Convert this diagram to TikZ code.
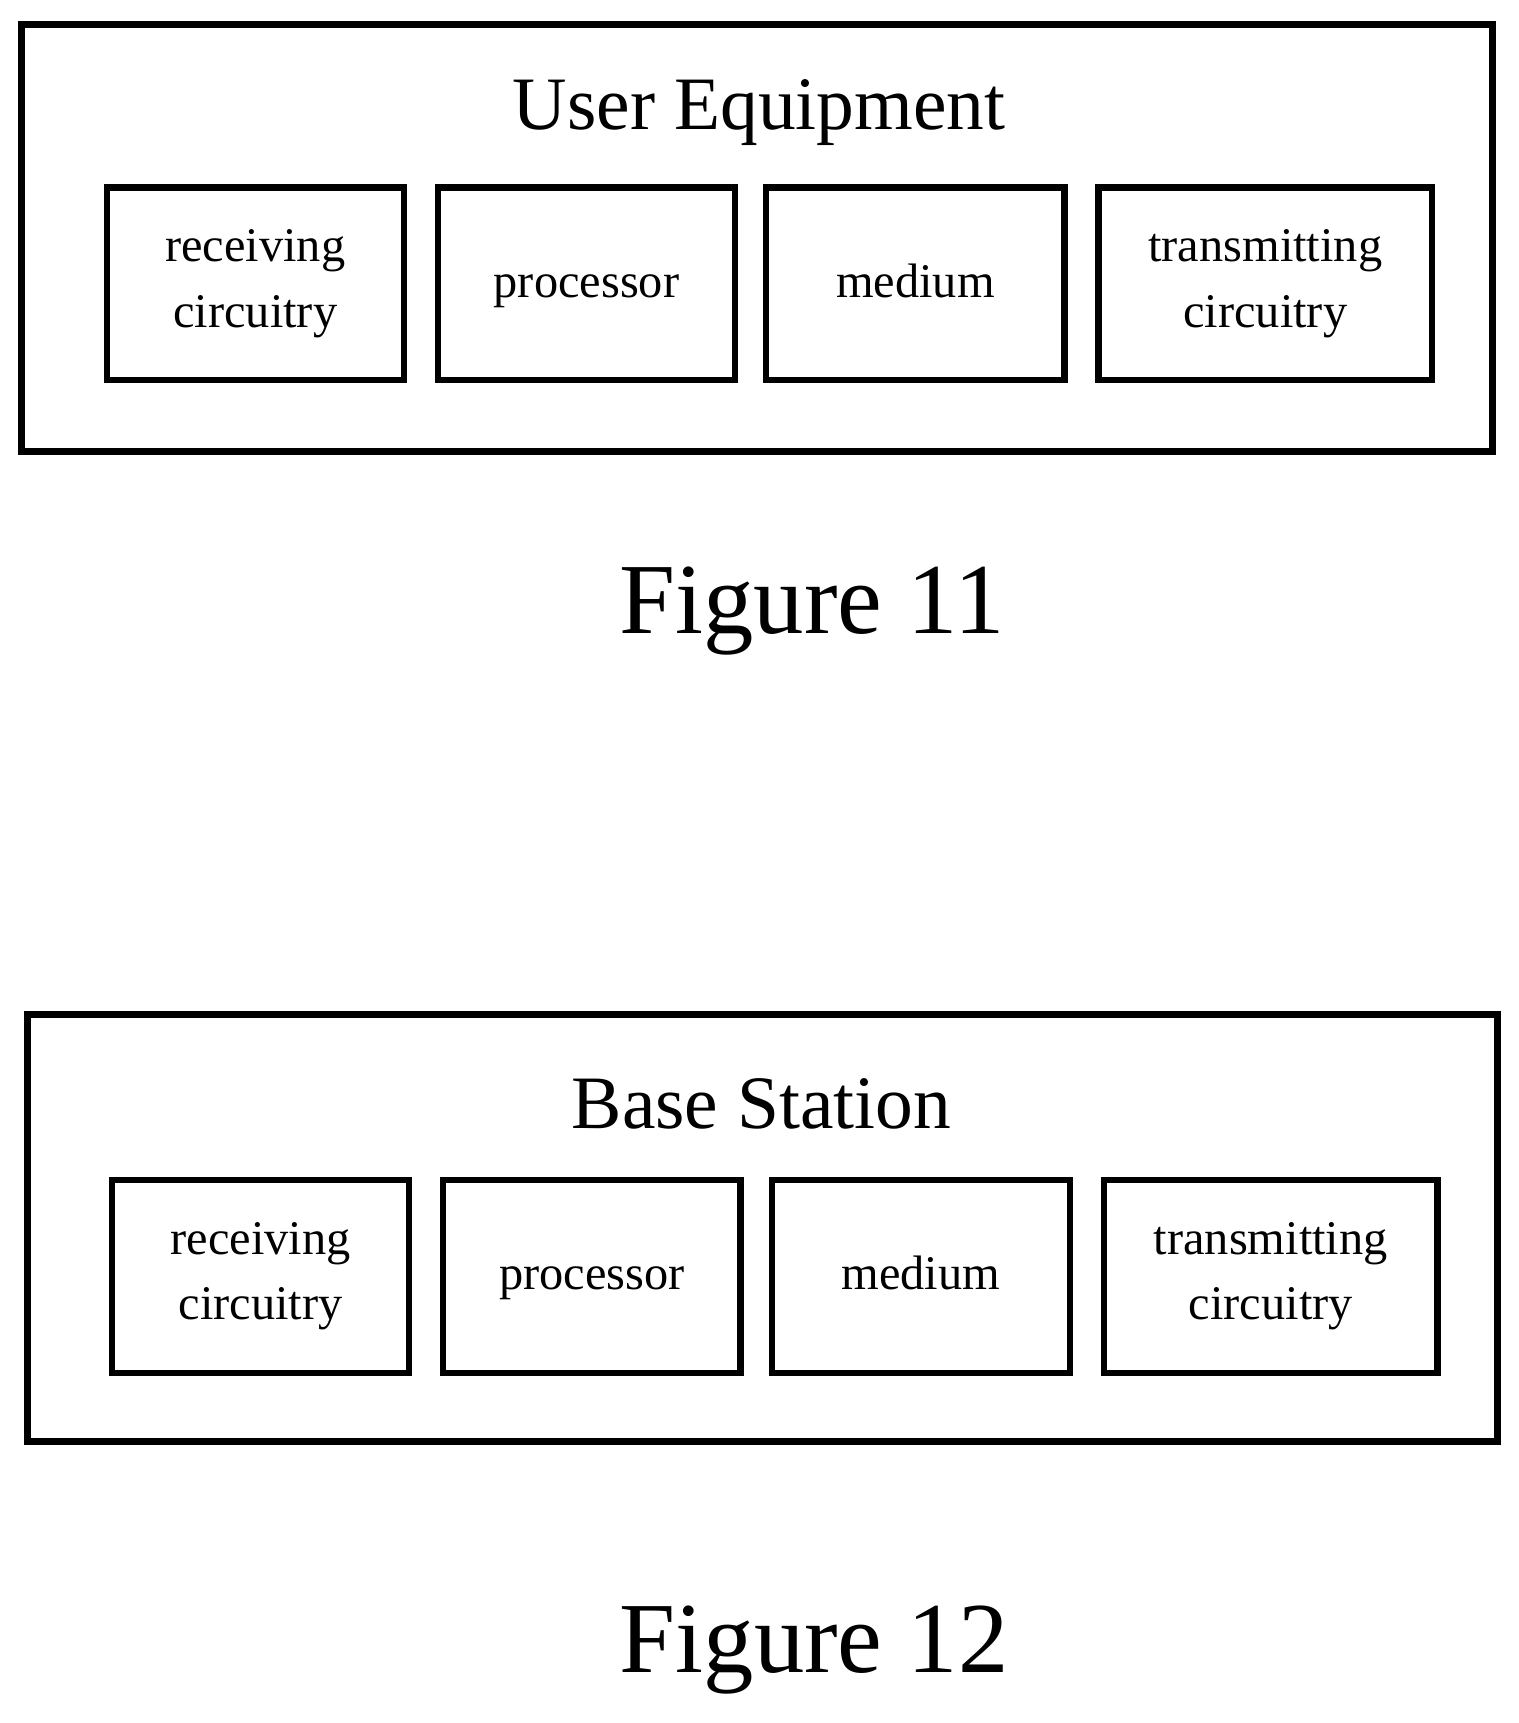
\documentclass[tikz,border=0pt]{standalone}
\usepackage{fontspec}
\setmainfont{Liberation Serif}
\usetikzlibrary{positioning}

\tikzset{
  outer/.style={draw, line width=1.8pt, minimum width=13.36cm, minimum height=3.88cm},
  part/.style={draw, line width=1.6pt, minimum height=1.75cm, align=center,
               font=\fontsize{12.5}{17}\selectfont},
  title/.style={font=\fontsize{19.5}{24}\selectfont},
  caption/.style={font=\fontsize{26}{30}\selectfont}
}

\begin{document}
\begin{tikzpicture}[x=0.01cm, y=-0.01cm]
\useasboundingbox (0,0) rectangle (1380,1566);

% Figure 11: user equipment
\node[outer] (ue) at (688,216) {};
\node[title] (uetitle) at (690,102) {User Equipment};
\node[part, minimum width=2.70cm] (uerx) at (232,258) {receiving\\circuitry};
\node[part, minimum width=2.70cm] (ueproc) at (533,258) {\strut processor};
\node[part, minimum width=2.71cm] (uemed) at (832,258) {\strut medium};
\node[part, minimum width=3.03cm] (uetx) at (1150,258) {transmitting\\circuitry};
\node[caption] (fig11) at (738,555) {Figure 11};

% Figure 12: base station
\node[outer] (bs) at (693,1116) {};
\node[title] (bstitle) at (692,1003) {Base Station};
\node[part, minimum width=2.70cm] (bsrx) at (237,1160) {receiving\\circuitry};
\node[part, minimum width=2.70cm] (bsproc) at (538,1160) {\strut processor};
\node[part, minimum width=2.71cm] (bsmed) at (837,1160) {\strut medium};
\node[part, minimum width=3.03cm] (bstx) at (1155,1160) {transmitting\\circuitry};
\node[caption] (fig12) at (740,1500) {Figure 12};

\end{tikzpicture}
\end{document}
